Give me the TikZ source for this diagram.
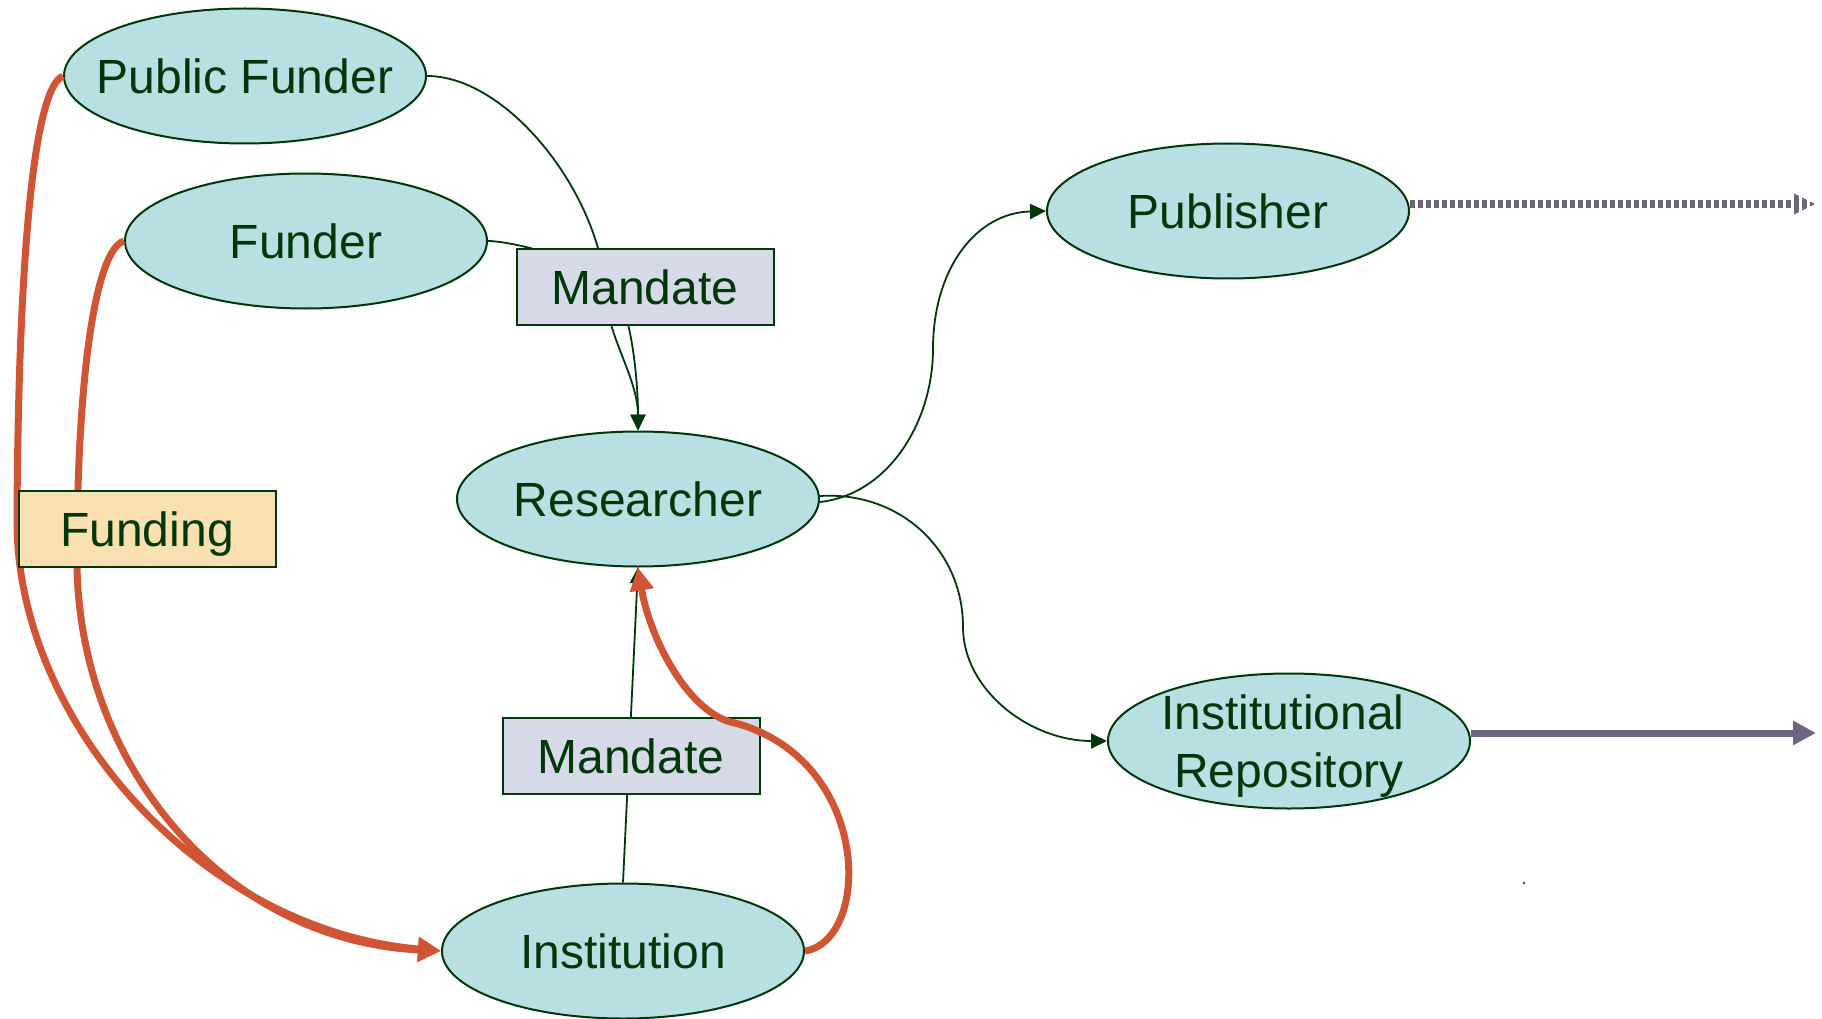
\documentclass[tikz,border=0pt]{standalone}
\usepackage{fontspec}
\setmainfont{Liberation Sans}
\usetikzlibrary{shapes.geometric,arrows.meta}
\definecolor{ellfill}{RGB}{184,223,225}
\definecolor{dkgreen}{RGB}{0,55,10}
\definecolor{mandfill}{RGB}{214,218,230}
\definecolor{fundfill}{RGB}{248,224,176}
\definecolor{redline}{RGB}{208,85,52}
\definecolor{purp}{RGB}{108,100,128}
\definecolor{dotblue}{RGB}{40,60,110}
\begin{document}
\begin{tikzpicture}[x=1pt,y=-1pt,
  actor/.style={ellipse, draw=dkgreen, line width=2pt, fill=ellfill,
    minimum width=362pt, minimum height=135pt, inner xsep=-60pt, inner ysep=-20pt,
    text=dkgreen, font=\fontsize{48}{58}\selectfont, align=center},
  labelbox/.style={rectangle, draw=dkgreen, line width=2pt,
    minimum width=257pt, minimum height=76pt, inner sep=0pt,
    text height=34pt, text depth=0pt,
    text=dkgreen, font=\fontsize{48}{57}\selectfont},
  mlink/.style={draw=dkgreen, line width=1.8pt},
  mtip/.style={-{Triangle[length=16pt,width=15pt]}},
  fundlink/.style={draw=redline, line width=7pt, -{Triangle[length=23pt,width=23pt]}},
  outlink/.style={draw=purp, line width=7pt},
  dashpat/.style={dash pattern=on 5pt off 3pt}
]
\useasboundingbox (0,0) rectangle (1822,1019);

% actors
\node[actor] (pf)  at (245,76)  {Public Funder};
\node[actor] (fu)  at (306,241) {Funder};
\node[actor] (pub) at (1228,211) {Publisher};
\node[actor] (res) at (638,499) {Researcher};
\node[actor] (ins) at (623,951) {Institution};
\node[actor] (ir)  at (1289,741) {\raisebox{-6pt}[\height][\depth]{\begin{tabular}{@{}c@{}}Institutional\hspace*{12pt}\\Repository\end{tabular}}};

% mandate links (behind boxes)
\draw[mlink, mtip] (pf.east) .. controls (510,76) and (605,200) .. (606,300)
   .. controls (610,340) and (638,380) .. (res.north);
\draw[mlink, mtip] (fu.east) .. controls (510,241) and (600,260) .. (620,300)
   .. controls (632,325) and (638,380) .. (res.north);
\draw[mlink, mtip] (ins.north) -- (res.south);

% researcher outputs
\draw[mlink, mtip] ([yshift=-3pt]res.east) .. controls (890,494) and (933,420) .. (933,349)
   .. controls (933,270) and (975,213) .. (pub.west);
\draw[mlink, mtip] ([yshift=3pt]res.east) .. controls (900,491) and (963,550) .. (963,627)
   .. controls (963,690) and (1030,741) .. (ir.west);

% mandate boxes
\node[labelbox, fill=mandfill] (m1) at (645,287) {Mandate};
\node[labelbox, fill=mandfill] (m2) at (631,756) {Mandate};

% funding lines
\draw[fundlink] (pf.west) .. controls (30,90) and (18,300) .. (17,520)
   .. controls (16,720) and (200,930) .. (ins.west);
\draw[fundlink] (fu.west) .. controls (95,250) and (77,380) .. (77,560)
   .. controls (77,760) and (220,940) .. (ins.west);
\draw[fundlink] (ins.east) .. controls (872,940) and (872,760) .. (735,723)
   .. controls (690,715) and (650,640) .. (res.south);

% funding box
\node[labelbox, fill=fundfill] (fb) at (147,529) {Funding};

% outputs to the right
\coordinate (pubend) at (1815,204);
\coordinate (pubbase) at (1791,204);
\draw[outlink, dashpat] (pub.east|-pubend) -- (pubbase);
\begin{scope}
  \clip (1791,192) -- (pubend) -- (1791,216) -- cycle;
  \draw[outlink, line width=30pt, dashpat] (pub.east|-pubend) -- (pubend);
\end{scope}

\coordinate (irend) at (1816,733);
\draw[outlink, -{Triangle[length=23pt,width=23pt]}] (ir.east|-irend) -- (irend);

\fill[dotblue] (1524,883) circle (1.3pt);
\end{tikzpicture}
\end{document}
